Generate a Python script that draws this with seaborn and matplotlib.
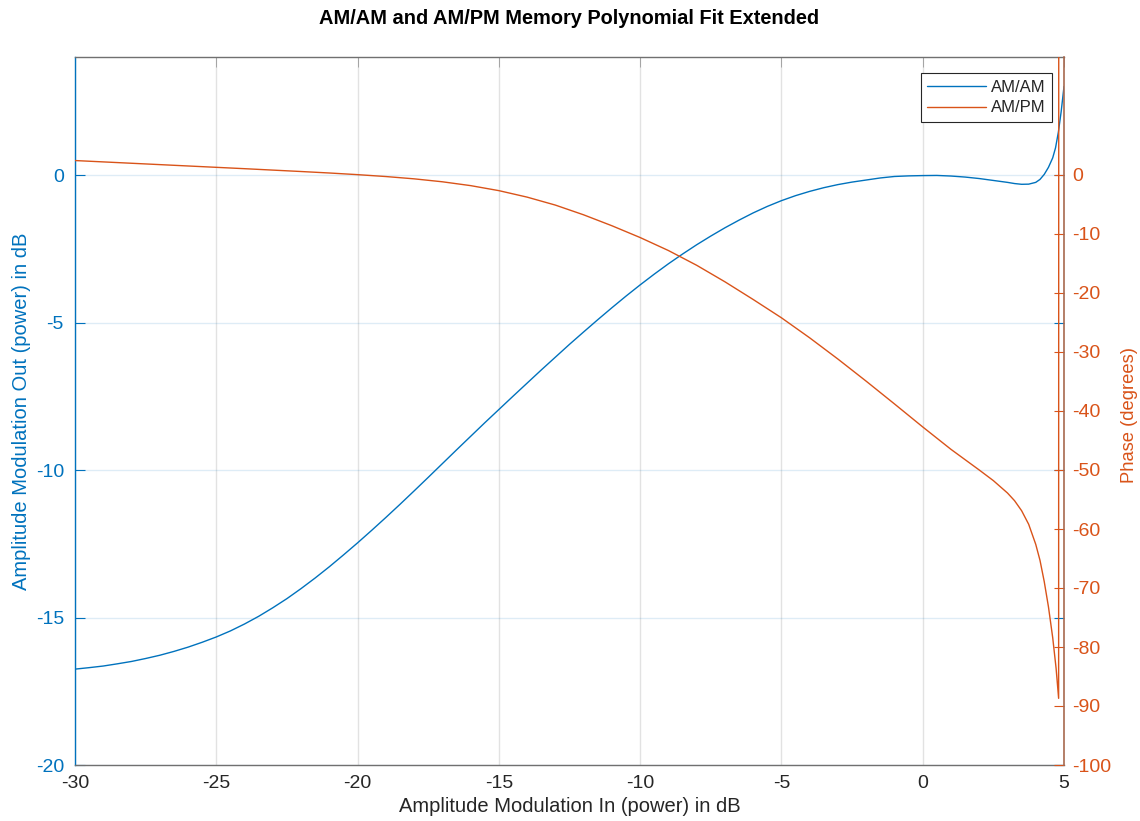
import matplotlib
matplotlib.use("Agg")
import matplotlib.pyplot as plt
import pandas as pd
import seaborn as sns

# Input power sweep (dB) and fitted AM/AM gain response (dB)
pin_am = [-30, -29.5, -29, -28.5, -28, -27.5, -27, -26.5, -26, -25.5, -25,
          -24.5, -24, -23.5, -23, -22.5, -22, -21.5, -21, -20.5, -20, -19.5,
          -19, -18.5, -18, -17.5, -17, -16.5, -16, -15.5, -15, -14.5, -14,
          -13.5, -13, -12.5, -12, -11.5, -11, -10.5, -10, -9.5, -9, -8.5, -8,
          -7.5, -7, -6.5, -6, -5.5, -5, -4.5, -4, -3.5, -3, -2.5, -2, -1.5,
          -1, -0.5, 0, 0.5, 1.0, 1.5, 2.0, 2.5, 3.0, 3.25, 3.5, 3.75, 4.0,
          4.15, 4.3, 4.45, 4.6, 4.7, 4.8, 4.9, 5.0]
am_am = [-16.75, -16.70, -16.645, -16.57, -16.49, -16.39, -16.28, -16.15,
         -16.005, -15.84, -15.66, -15.455, -15.22, -14.96, -14.67, -14.36,
         -14.02, -13.66, -13.28, -12.88, -12.47, -12.045, -11.61, -11.165,
         -10.71, -10.25, -9.785, -9.32, -8.86, -8.40, -7.95, -7.50, -7.055,
         -6.61, -6.175, -5.74, -5.32, -4.905, -4.50, -4.105, -3.725, -3.36,
         -3.01, -2.68, -2.365, -2.07, -1.79, -1.53, -1.285, -1.065, -0.87,
         -0.70, -0.555, -0.43, -0.325, -0.24, -0.17, -0.10, -0.05, -0.03,
         -0.02, -0.015, -0.035, -0.07, -0.12, -0.185, -0.25, -0.29, -0.315,
         -0.31, -0.25, -0.15, 0.02, 0.26, 0.58, 0.92, 1.45, 2.15, 3.0]

# Fitted AM/PM phase response (degrees); the fit blows up just below 5 dB
pin_pm = [-30, -29, -28, -27, -26, -25, -24, -23, -22, -21, -20, -19, -18,
          -17, -16, -15, -14, -13, -12, -11, -10, -9, -8, -7, -6, -5, -4, -3,
          -2, -1, 0, 1, 2, 2.5, 3.0, 3.25, 3.5, 3.75, 4.0, 4.15, 4.3, 4.45,
          4.6, 4.72, 4.81, 4.83, 5.0]
am_pm = [2.45, 2.22, 1.99, 1.76, 1.53, 1.30, 1.07, 0.83, 0.59, 0.34, 0.06,
         -0.26, -0.65, -1.15, -1.8, -2.65, -3.75, -5.1, -6.75, -8.6, -10.6,
         -12.8, -15.3, -18.1, -21.1, -24.2, -27.6, -31.2, -34.95, -38.8,
         -42.7, -46.5, -50.0, -51.8, -53.9, -55.2, -56.9, -59.2, -62.6,
         -65.3, -68.9, -73.2, -78.4, -83.6, -88.7, 500.0, 500.0]

x_ticks = [-30, -25, -20, -15, -10, -5, 0, 5]
left_ticks = [-20, -15, -10, -5, 0]
right_ticks = list(range(-100, 1, 10))

BLUE = "#0072BD"
ORANGE = "#D95319"
AXGRAY = "#262626"

am_df = pd.DataFrame({"pin": pin_am, "gain": am_am})
pm_df = pd.DataFrame({"pin": pin_pm, "phase": am_pm})

sns.set_theme(style="white")
plt.rcParams["font.family"] = ["Liberation Sans", "DejaVu Sans"]

W, H = 1140, 821
fig = plt.figure(figsize=(W / 100, H / 100), dpi=100)
L, R, T, B = 75, 1064, 57, 765
ax = fig.add_axes([L / W, 1 - B / H, (R - L) / W, (B - T) / H])
ax2 = ax.twinx()

sns.lineplot(data=am_df, x="pin", y="gain", ax=ax, color=BLUE, lw=1.0,
             estimator=None, sort=False, label="AM/AM", legend=False)
sns.lineplot(data=pm_df, x="pin", y="phase", ax=ax2, color=ORANGE, lw=1.0,
             estimator=None, sort=False, label="AM/PM", legend=False)

ax.set_xlim(-30, 5)
ax.set_ylim(-20, 4)
ax2.set_ylim(-100, 20)
ax.set_xticks(x_ticks)
ax.set_xticklabels([str(v) for v in x_ticks])
ax.set_yticks(left_ticks)
ax.set_yticklabels([str(v) for v in left_ticks])
ax2.set_yticks(right_ticks)
ax2.set_yticklabels([str(v) for v in right_ticks])

# grid: vertical lines gray, horizontal lines follow the left axis colour
ax.set_axisbelow(True)
ax.grid(axis="x", color=AXGRAY, alpha=0.13, lw=1.0)
ax.grid(axis="y", color=BLUE, alpha=0.13, lw=1.0)
ax2.grid(False)

ax.tick_params(axis="x", direction="in", length=7, width=0.6, colors="#9a9a9a",
               labelsize=14, top=True, pad=7, labelcolor=AXGRAY)
ax.tick_params(axis="y", direction="in", length=7, width=0.8, colors=BLUE,
               labelsize=14, left=True, right=True, labelright=False, pad=8)
ax2.tick_params(axis="y", direction="in", length=7, width=0.8, colors=ORANGE,
                labelsize=14, right=True, left=False, pad=6)

for sp in ("top", "bottom"):
    ax.spines[sp].set_color("#707070")
    ax.spines[sp].set_linewidth(1.0)
    ax2.spines[sp].set_visible(False)
ax.spines["left"].set_color(BLUE)
ax.spines["left"].set_linewidth(1.0)
ax.spines["right"].set_visible(False)
ax2.spines["left"].set_visible(False)
ax2.spines["right"].set_color("#a8694f")
ax2.spines["right"].set_linewidth(1.2)

ax.set_xlabel("Amplitude Modulation In (power) in dB", fontsize=14.5,
              color=AXGRAY)
ax.xaxis.set_label_coords(0.5, -(797 - B) / (B - T))
ax.set_ylabel("Amplitude Modulation Out (power) in dB", fontsize=14.5,
              color=BLUE)
ax.yaxis.set_label_coords((31 - L) / (R - L), 0.5)
ax2.set_ylabel("Phase (degrees)", fontsize=13.2, color=ORANGE)
ax2.yaxis.set_label_coords((1121 - L) / (R - L), 0.495)
ax.set_title("AM/AM and AM/PM Memory Polynomial Fit Extended",
             fontsize=14.4, fontweight="bold", color="black", pad=24)

handles = ax.get_lines()[:1] + ax2.get_lines()[:1]
leg = ax2.legend(handles, ["AM/AM", "AM/PM"], loc="upper right",
                 bbox_to_anchor=(1 - 12 / (R - L), 1 - 16 / (B - T)),
                 borderaxespad=0, fontsize=12, frameon=True, fancybox=False,
                 framealpha=1, edgecolor=AXGRAY, handlelength=3.5,
                 handletextpad=0.3, borderpad=0.4, labelspacing=0.35)
leg.get_frame().set_linewidth(0.8)

fig.savefig("out.png", dpi=100, facecolor="white")
